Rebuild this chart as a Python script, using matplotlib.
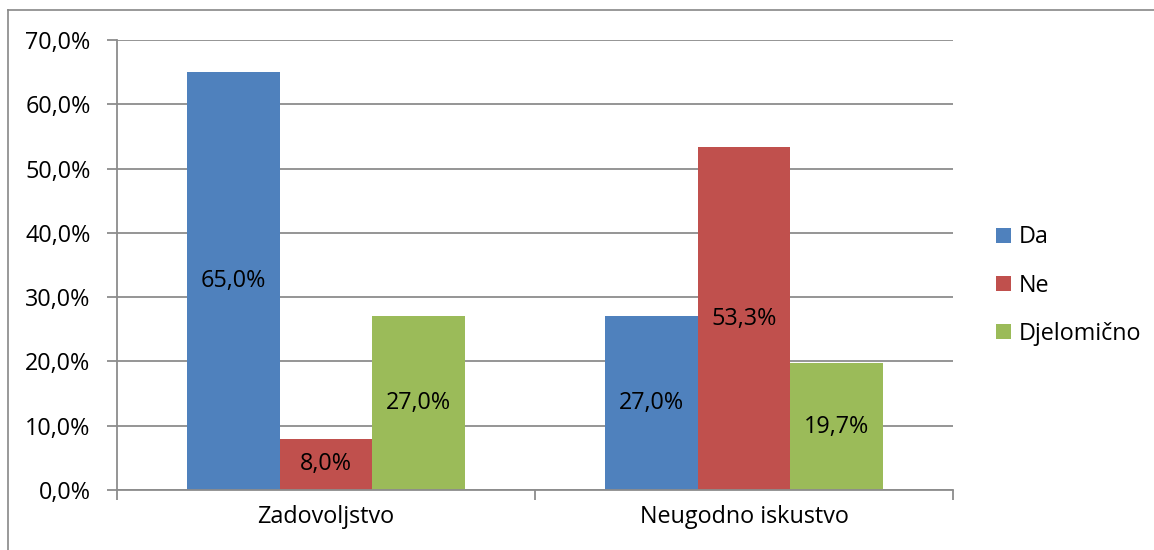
import matplotlib
matplotlib.use("Agg")
import matplotlib.pyplot as plt
import numpy as np
from matplotlib.lines import Line2D

categories = ["Zadovoljstvo", "Neugodno iskustvo"]
series_names = ["Da", "Ne", "Djelomično"]
da = [65.0, 27.0]
ne = [8.0, 53.3]
djelomicno = [27.0, 19.7]
colors = ["#4F81BD", "#C0504D", "#9BBB59"]
yticks = [0, 10, 20, 30, 40, 50, 60, 70]

plt.rcParams['font.family'] = ['Open Sans', 'DejaVu Sans']
FS = 16.8
W, H = 1154, 550
fig = plt.figure(figsize=(W/100, H/100), dpi=100)
ax = fig.add_axes([117/W, 1-490/H, (953-117)/W, (490-40)/H])

# outer frame (left & top visible)
fig.add_artist(Line2D([8/W, 8/W], [0, 1-10/H], color="#888888", lw=1.2, transform=fig.transFigure))
fig.add_artist(Line2D([8/W, 1], [1-10/H, 1-10/H], color="#888888", lw=1.2, transform=fig.transFigure))

x = np.arange(len(categories))
w = 0.2222
grid_c = "#8C8C8C"
for yv in yticks:
    ax.axhline(yv, color=grid_c, lw=1.3, zorder=0)

for i, (vals, name) in enumerate(zip([da, ne, djelomicno], series_names)):
    pos = x + (i - 1) * w
    ax.bar(pos, vals, w, color=colors[i], label=name, zorder=2, edgecolor="none")
    for p, v in zip(pos, vals):
        ax.text(p, v / 2, f"{v:.1f}%".replace(".", ","), ha="center", va="center",
                fontsize=FS, color="black", zorder=3)

ax.set_xlim(-0.5, 1.5)
ax.set_ylim(0, 70)
ax.set_yticks(yticks)
ax.set_yticklabels([f"{v:.1f}%".replace(".", ",") for v in yticks], fontsize=FS)
ax.set_xticks([0, 1])
ax.set_xticklabels(categories, fontsize=FS)
ax.set_xticks([-0.5, 0.5, 1.5], minor=True)
ax.tick_params(axis="x", which="major", length=0, pad=11)
ax.tick_params(axis="x", which="minor", length=7, color=grid_c, width=1.3)
ax.tick_params(axis="y", length=7, color=grid_c, width=1.3, pad=12)
for s in ["top", "right"]:
    ax.spines[s].set_visible(False)
ax.spines["left"].set_color(grid_c)
ax.spines["left"].set_linewidth(1.3)
ax.spines["bottom"].set_color(grid_c)
ax.spines["bottom"].set_linewidth(1.3)

fig.legend(loc="upper left", bbox_to_anchor=(987/W, 1-216/H), frameon=False,
           fontsize=FS, handlelength=0.62, handleheight=0.62, handletextpad=0.35,
           labelspacing=1.04, borderaxespad=0)

fig.savefig("out.png", dpi=100)
